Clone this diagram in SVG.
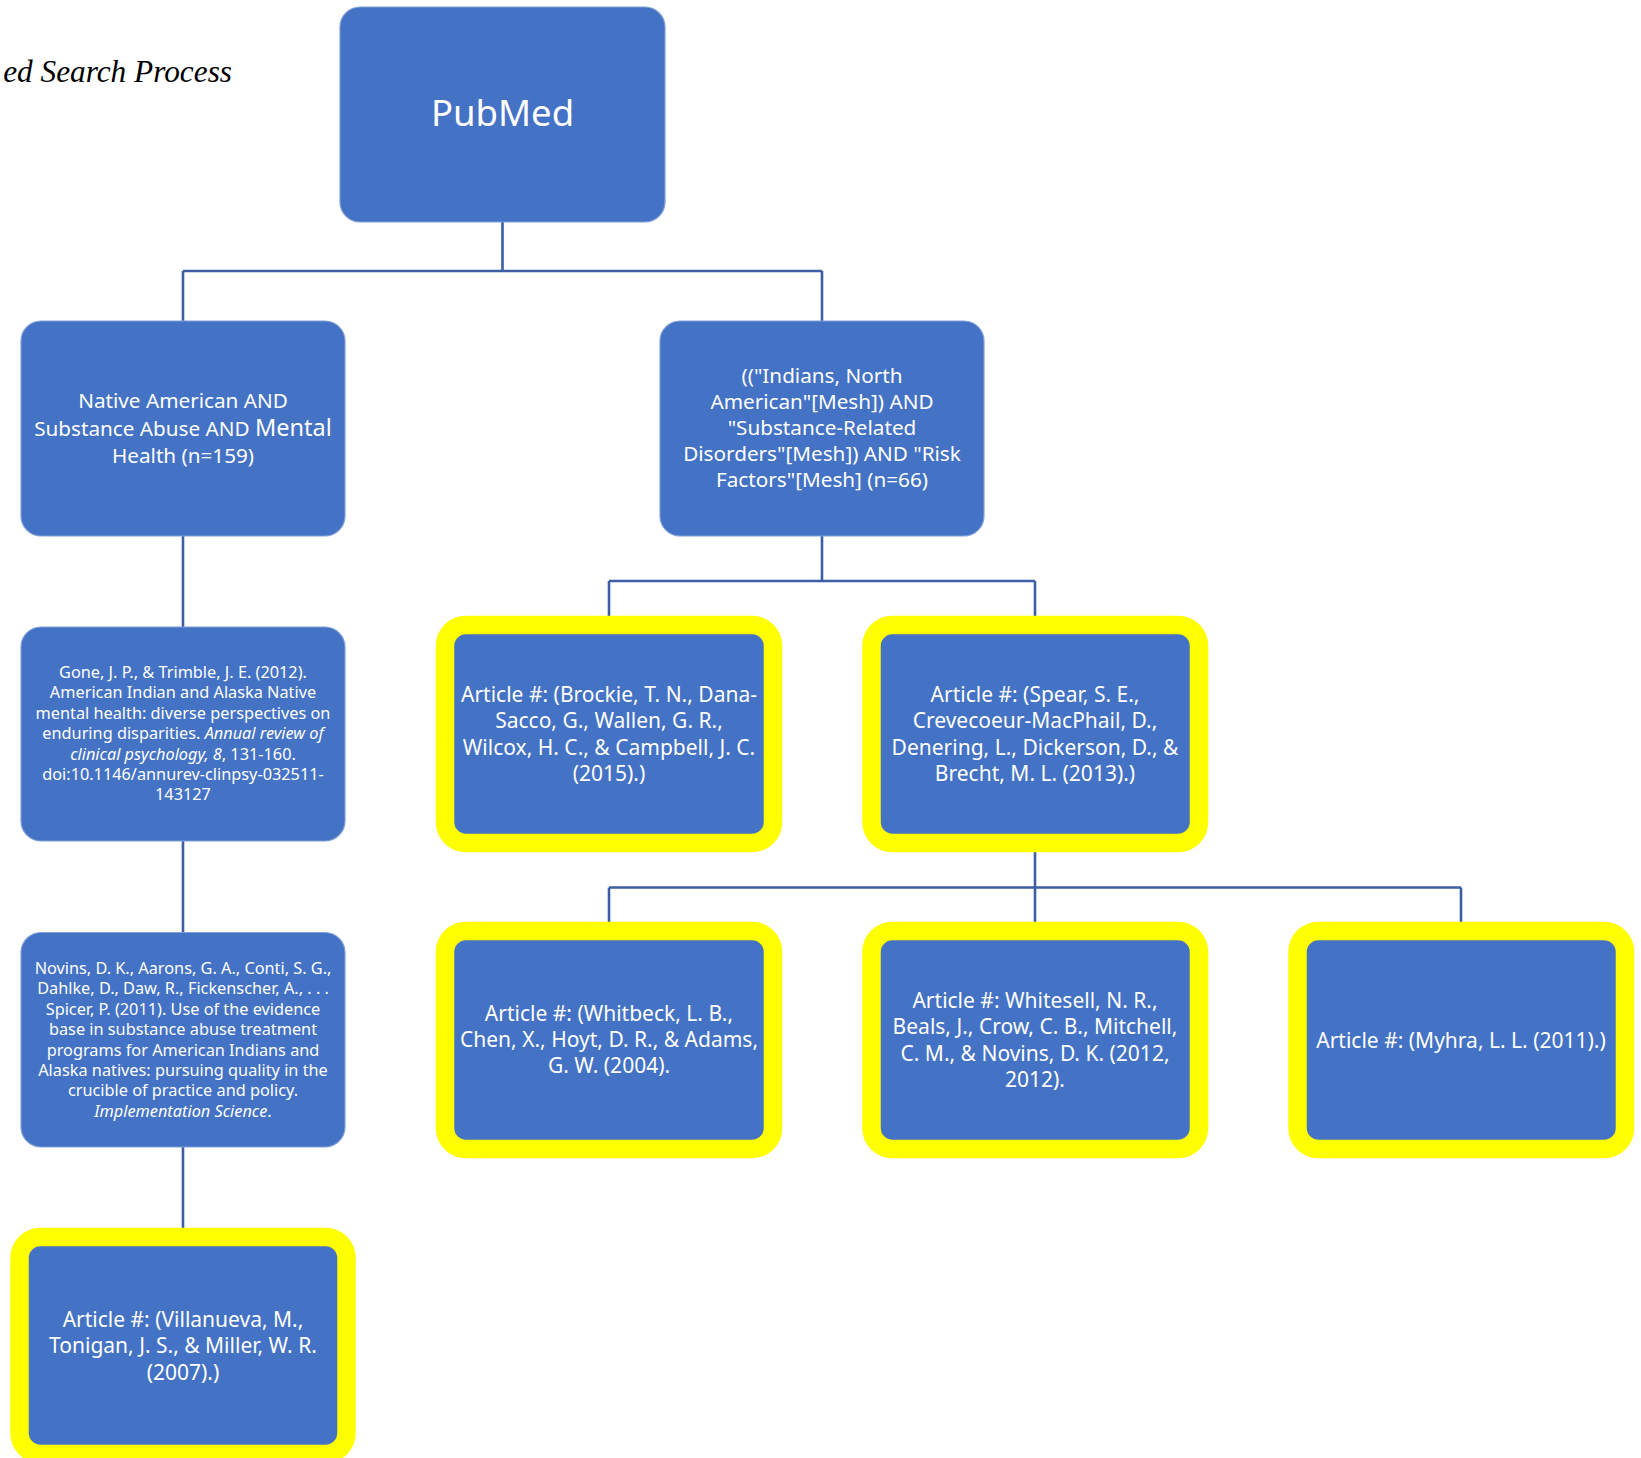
<svg xmlns="http://www.w3.org/2000/svg" width="1641" height="1458" viewBox="0 0 1641 1458">
<style>
.bg{fill:#ffffff}
.box{fill:#4472C4;stroke:#7f9fd8;stroke-width:1.2}
.hl{fill:#4472C4;stroke:#FFFF00;stroke-width:18.5}
.t{font-family:"Noto Sans","Open Sans",sans-serif;fill:#ffffff;text-anchor:middle}
.q{font-size:20.7px}
.c{font-size:16.3px}
.a{font-size:21px}
.i{font-style:italic}
.title{font-family:"Liberation Serif","Times New Roman",serif;font-style:italic;font-size:31.3px;fill:#000000;text-anchor:end}
.conn{fill:none;stroke:#3B5EA5;stroke-width:2.6}
</style>
<rect class="bg" x="0" y="0" width="1641" height="1458"/>
<text class="title" x="232" y="82">ed Search Process</text>
<g id="connectors">
<path class="conn" d="M502.5 222V271M183 271H822M183 271V321M822 271V321"/>
<path class="conn" d="M183 536V627M183 841V932.5M183 1147V1228"/>
<path class="conn" d="M822 536V581M609 581H1035M609 581V616M1035 581V616"/>
<path class="conn" d="M1035 843V887.5M609 887.5H1461M609 887.5V922M1035 887.5V922M1461 887.5V922"/>
</g>
<g id="pubmed">
<rect class="box" x="340" y="7" width="325" height="215" rx="20"/>
<text class="t" x="502.5" y="126" style="font-size:36.5px">PubMed</text>
</g>
<g id="query1">
<rect class="box" x="21" y="321" width="324" height="215" rx="20"/>
<text class="t q" x="183" y="408">Native American AND</text>
<text class="t q" x="183" y="435.5">Substance Abuse AND <tspan style="font-size:23.5px">Mental</tspan></text>
<text class="t q" x="183" y="463">Health (n=159)</text>
</g>
<g id="query2">
<rect class="box" x="660" y="321" width="324" height="215" rx="20"/>
<text class="t q" x="822" y="383">(("Indians, North</text>
<text class="t q" x="822" y="409">American"[Mesh]) AND</text>
<text class="t q" x="822" y="435">"Substance-Related</text>
<text class="t q" x="822" y="461">Disorders"[Mesh]) AND "Risk</text>
<text class="t q" x="822" y="487">Factors"[Mesh] (n=66)</text>
</g>
<g id="gone">
<rect class="box" x="21" y="627" width="324" height="214" rx="20"/>
<text class="t c" x="183" y="678">Gone, J. P., &amp; Trimble, J. E. (2012).</text>
<text class="t c" x="183" y="698.4">American Indian and Alaska Native</text>
<text class="t c" x="183" y="718.8">mental health: diverse perspectives on</text>
<text class="t c" x="183" y="739.2">enduring disparities. <tspan class="i">Annual review of</tspan></text>
<text class="t c" x="183" y="759.6"><tspan class="i">clinical psychology, 8</tspan>, 131-160.</text>
<text class="t c" x="183" y="780">doi:10.1146/annurev-clinpsy-032511-</text>
<text class="t c" x="183" y="800.4">143127</text>
</g>
<g id="novins">
<rect class="box" x="21" y="932.5" width="324" height="214.5" rx="20"/>
<text class="t c" x="183" y="974">Novins, D. K., Aarons, G. A., Conti, S. G.,</text>
<text class="t c" x="183" y="994.4">Dahlke, D., Daw, R., Fickenscher, A., . . .</text>
<text class="t c" x="183" y="1014.8">Spicer, P. (2011). Use of the evidence</text>
<text class="t c" x="183" y="1035.2">base in substance abuse treatment</text>
<text class="t c" x="183" y="1055.6">programs for American Indians and</text>
<text class="t c" x="183" y="1076">Alaska natives: pursuing quality in the</text>
<text class="t c" x="183" y="1096.4">crucible of practice and policy.</text>
<text class="t c" x="183" y="1116.8"><tspan class="i">Implementation  Science</tspan>.</text>
</g>
<g id="villanueva">
<rect class="hl" x="19.5" y="1237" width="327" height="217" rx="21"/>
<text class="t a" x="183" y="1327">Article #: (Villanueva, M.,</text>
<text class="t a" x="183" y="1353.3">Tonigan, J. S., &amp; Miller, W. R.</text>
<text class="t a" x="183" y="1379.6">(2007).)</text>
</g>
<g id="brockie">
<rect class="hl" x="445" y="625" width="328" height="218" rx="21"/>
<text class="t a" x="609" y="702">Article #: (Brockie, T. N., Dana-</text>
<text class="t a" x="609" y="728.3">Sacco, G., Wallen, G. R.,</text>
<text class="t a" x="609" y="754.6">Wilcox, H. C., &amp; Campbell, J. C.</text>
<text class="t a" x="609" y="780.9">(2015).)</text>
</g>
<g id="spear">
<rect class="hl" x="871.5" y="625" width="327.5" height="218" rx="21"/>
<text class="t a" x="1035" y="702">Article #: (Spear, S. E.,</text>
<text class="t a" x="1035" y="728.3">Crevecoeur-MacPhail, D.,</text>
<text class="t a" x="1035" y="754.6">Denering, L., Dickerson, D., &amp;</text>
<text class="t a" x="1035" y="780.9">Brecht, M. L. (2013).)</text>
</g>
<g id="whitbeck">
<rect class="hl" x="445" y="931" width="328" height="218" rx="21"/>
<text class="t a" x="609" y="1020.5">Article #: (Whitbeck, L. B.,</text>
<text class="t a" x="609" y="1046.8">Chen, X., Hoyt, D. R., &amp; Adams,</text>
<text class="t a" x="609" y="1073.1">G. W. (2004).</text>
</g>
<g id="whitesell">
<rect class="hl" x="871.5" y="931" width="327.5" height="218" rx="21"/>
<text class="t a" x="1035" y="1008">Article #: Whitesell, N. R.,</text>
<text class="t a" x="1035" y="1034.3">Beals, J., Crow, C. B., Mitchell,</text>
<text class="t a" x="1035" y="1060.6">C. M., &amp; Novins, D. K. (2012,</text>
<text class="t a" x="1035" y="1086.9">2012).</text>
</g>
<g id="myhra">
<rect class="hl" x="1297.5" y="931" width="327.5" height="218" rx="21"/>
<text class="t a" x="1461" y="1047.5">Article #: (Myhra, L. L. (2011).)</text>
</g>
</svg>
